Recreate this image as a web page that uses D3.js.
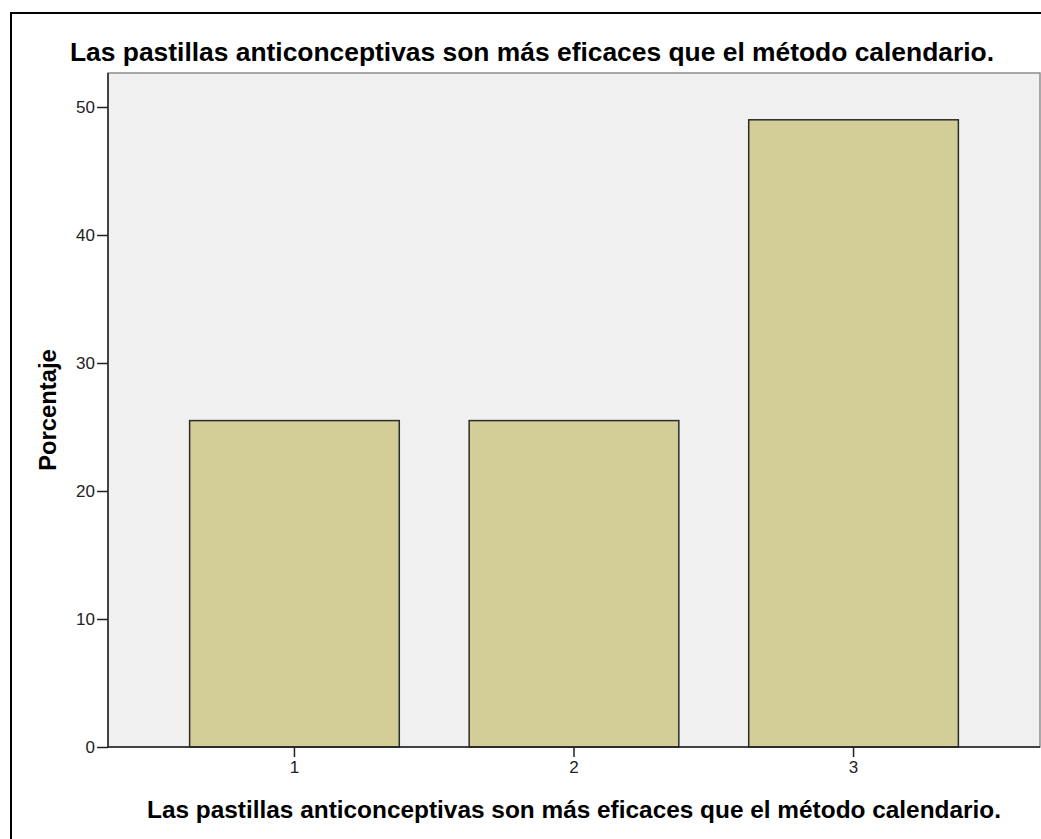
<!DOCTYPE html>
<html lang="es">
<head>
	<meta charset="UTF-8">
	<title>Porcentaje</title>
	<script src="https://d3js.org/d3.v7.min.js"></script>
	<style>
		body { margin: 0; background: #fff; }
		text { font-family: "Liberation Sans", Arial, sans-serif; }
	</style>
</head>
<body>
	<div id="main"></div>
<script>
	// values
	var categories = ["1", "2", "3"];
	var percents = [25.5, 25.5, 49.0];
	var yTicks = [0, 10, 20, 30, 40, 50];
	var titleText = "Las pastillas anticonceptivas son más eficaces que el método calendario.";
	var xLabel = "Las pastillas anticonceptivas son más eficaces que el método calendario.";
	var yLabel = "Porcentaje";

	var width = 1041, height = 839;
	var plot = { left: 108, right: 1040, top: 73, bottom: 747 };

	var svg = d3.select("#main")
		.append("svg")
		.attr("width", width)
		.attr("height", height);

	// outer frame (right/bottom edges fall outside the picture)
	svg.append("rect")
		.attr("x", 11).attr("y", 13)
		.attr("width", 1060).attr("height", 860)
		.attr("fill", "none")
		.attr("stroke", "#000")
		.attr("stroke-width", 2);

	// plot background
	svg.append("rect")
		.attr("x", plot.left).attr("y", plot.top)
		.attr("width", plot.right - plot.left)
		.attr("height", plot.bottom - plot.top)
		.attr("fill", "#f0f0f0")
		.attr("stroke", "#8c8c8c")
		.attr("stroke-width", 1.5);

	var x = d3.scaleBand()
		.domain(categories)
		.range([plot.left, plot.right])
		.paddingInner(0.25)
		.paddingOuter(0.292);

	var y = d3.scaleLinear()
		.domain([0, 50])
		.range([plot.bottom, 107]);

	svg.selectAll("rect.bar")
		.data(percents)
		.enter()
		.append("rect")
		.attr("class", "bar")
		.attr("x", function(d, i){ return x(categories[i]); })
		.attr("y", function(d){ return y(d); })
		.attr("width", x.bandwidth())
		.attr("height", function(d){ return y(0) - y(d); })
		.attr("fill", "#d3ce97")
		.attr("stroke", "#2b2b2b")
		.attr("stroke-width", 1.5);

	// y axis
	var yAxis = svg.append("g")
		.attr("transform", "translate(" + plot.left + ",0)")
		.call(d3.axisLeft(y).tickValues(yTicks).tickSize(11).tickPadding(2));
	yAxis.select(".domain")
		.attr("d", "M0," + plot.top + "V" + plot.bottom)
		.attr("stroke", "#222").attr("stroke-width", 1.5);

	// x axis
	var xAxis = svg.append("g")
		.attr("transform", "translate(0," + plot.bottom + ")")
		.call(d3.axisBottom(x).tickSize(10).tickPadding(4));
	xAxis.select(".domain")
		.attr("d", "M" + plot.left + ",0H" + plot.right)
		.attr("stroke", "#222").attr("stroke-width", 1.5);

	svg.selectAll(".tick line").attr("stroke", "#222").attr("stroke-width", 1.5);
	svg.selectAll(".tick text")
		.attr("fill", "#222")
		.style("font-size", "17px")
		.style("font-family", "'Liberation Sans', Arial, sans-serif");

	// title
	svg.append("text")
		.attr("x", 70).attr("y", 61)
		.attr("font-size", 26.4)
		.attr("font-weight", "bold")
		.attr("fill", "#000")
		.text(titleText);

	// axis titles
	svg.append("text")
		.attr("x", (plot.left + plot.right) / 2).attr("y", 818)
		.attr("text-anchor", "middle")
		.attr("font-size", 24.4)
		.attr("font-weight", "bold")
		.attr("fill", "#000")
		.text(xLabel);

	svg.append("text")
		.attr("transform", "translate(56," + ((plot.top + plot.bottom) / 2) + ") rotate(-90)")
		.attr("text-anchor", "middle")
		.attr("font-size", 23.8)
		.attr("font-weight", "bold")
		.attr("fill", "#000")
		.text(yLabel);
</script>
</body>
</html>
